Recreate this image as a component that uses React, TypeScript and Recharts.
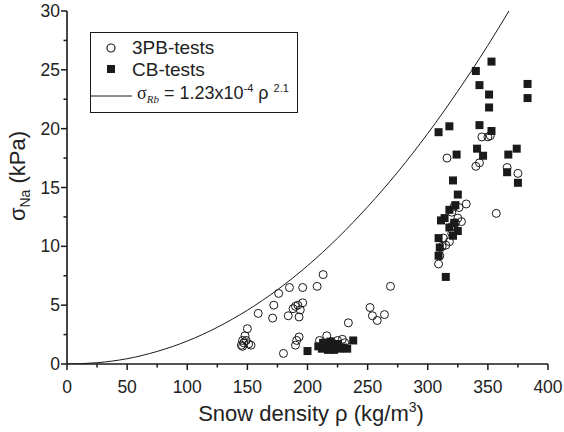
import {
  ComposedChart,
  Scatter,
  Line,
  XAxis,
  YAxis,
  Legend,
} from "recharts";

// 3PB-tests (open circles)
const pbRho = [
  145, 146, 147, 148, 150, 151, 153, 146, 149, 159, 172, 171, 176, 180, 185,
  184, 188, 190, 192, 194, 196, 193, 191, 193, 190, 196, 208, 213, 210, 216,
  212, 218, 220, 222, 225, 227, 229, 231, 234, 252, 254, 258, 264, 269, 309,
  310, 312, 313, 315, 318, 320, 316, 320, 320, 322, 326, 325, 328, 332, 323,
  340, 343, 345, 350, 352, 357, 366, 375,
];
const pbSigma = [
  1.6, 2.0, 1.8, 2.4, 3.0, 1.7, 1.6, 1.5, 2.0, 4.3, 5.0, 3.9, 6.0, 0.9, 6.5,
  4.1, 4.7, 4.9, 5.0, 4.6, 5.2, 4.0, 2.0, 2.3, 1.6, 6.5, 6.6, 7.6, 2.0, 2.4,
  1.5, 1.6, 1.9, 1.3, 2.0, 1.5, 2.1, 1.8, 3.5, 4.8, 4.1, 3.7, 4.2, 6.6, 8.5,
  9.2, 10.0, 10.7, 10.1, 10.4, 11.1, 17.5, 11.7, 12.9, 13.4, 13.3, 12.4, 12.1,
  13.6, 12.0, 16.8, 17.1, 19.3, 19.3, 19.4, 12.8, 16.7, 16.2,
];

// CB-tests (filled squares)
const cbRho = [
  200, 209, 212, 215, 217, 220, 222, 225, 227, 230, 233, 238, 213, 219, 309,
  318, 324, 321, 325, 323, 318, 314, 311, 322, 318, 325, 321, 309, 310, 309,
  315, 340, 353, 343, 351, 351, 343, 353, 341, 346, 367, 374, 366, 375, 383,
  383,
];
const cbSigma = [
  1.1, 1.5, 1.3, 1.6, 1.2, 1.5, 1.2, 1.7, 1.3, 1.4, 1.3, 2.0, 1.8, 1.9, 19.7,
  20.2, 17.8, 15.6, 14.4, 13.5, 13.1, 12.4, 12.2, 12.0, 11.6, 11.3, 10.9, 10.7,
  9.9, 9.2, 7.4, 24.9, 25.7, 23.7, 22.9, 21.8, 20.3, 19.8, 18.3, 17.7, 17.8,
  18.3, 16.3, 15.4, 23.8, 22.6,
];

// sigma_Rb curve
const fitRho = [0, 25, 50, 75, 100, 125, 150, 175, 200, 225, 250, 275, 300, 325, 350, 367.5];
const fitSigma = [0, 0.11, 0.45, 1.07, 1.95, 3.12, 4.57, 6.31, 8.35, 10.7, 13.36, 16.31, 19.59, 23.19, 27.08, 30];

const xTicks = [0, 25, 50, 75, 100, 125, 150, 175, 200, 225, 250, 275, 300, 325, 350, 375, 400];
const yTicks = [0, 2.5, 5, 7.5, 10, 12.5, 15, 17.5, 20, 22.5, 25, 27.5, 30];

const pbData = pbRho.map((rho, i) => ({ rho, sigma: pbSigma[i] }));
const cbData = cbRho.map((rho, i) => ({ rho, sigma: cbSigma[i] }));
const fitData = fitRho.map((rho, i) => ({ rho, sigma: fitSigma[i] }));

const FONT = "'Liberation Sans', Arial, sans-serif";
const SERIF = "'Liberation Serif', 'Times New Roman', serif";
const INK = "#1a1a1a";

const XTick = (props: any) => {
  const { x, y, payload } = props;
  const major = payload.value % 50 === 0;
  return (
    <g>
      <line x1={x} y1={y} x2={x} y2={y + (major ? 6 : 3.5)} stroke={INK} strokeWidth={1.5} />
      {major && (
        <text x={x} y={y + 29} textAnchor="middle" fontSize={17.5} fontFamily={FONT} fill="#222">
          {payload.value}
        </text>
      )}
    </g>
  );
};

const YTick = (props: any) => {
  const { x, y, payload } = props;
  const major = payload.value % 5 === 0;
  return (
    <g>
      <line x1={x} y1={y} x2={x - (major ? 6 : 3.5)} y2={y} stroke={INK} strokeWidth={1.5} />
      {major && (
        <text x={x - 7} y={y + 6} textAnchor="end" fontSize={17.5} fontFamily={FONT} fill="#222">
          {payload.value}
        </text>
      )}
    </g>
  );
};

const XTitle = () => (
  <text x={311} y={421} textAnchor="middle" fontSize={22} fontFamily={FONT} fill="#222">
    Snow density ρ (kg/m
    <tspan fontSize={14} dy={-9}>3</tspan>
    <tspan dy={9}>)</tspan>
  </text>
);

const YTitle = () => (
  <text transform="translate(25,176) rotate(-90)" textAnchor="middle" fontSize={22} fontFamily={FONT} fill="#222">
    σ
    <tspan fontSize={14} dy={5}>Na</tspan>
    <tspan dy={-5}> (kPa)</tspan>
  </text>
);

const LegendBox = () => (
  <div
    style={{
      width: 208,
      height: 81,
      border: `1.5px solid ${INK}`,
      boxSizing: "border-box",
      background: "#fff",
    }}
  >
    <svg width={205} height={78} style={{ display: "block", overflow: "visible" }}>
      <circle cx={20} cy={15} r={4} fill="none" stroke={INK} strokeWidth={1.2} />
      <text x={41} y={21} fontSize={19} fontFamily={FONT} fill="#222">3PB-tests</text>
      <rect x={16} y={32} width={8} height={8} fill={INK} />
      <text x={41} y={43} fontSize={19} fontFamily={FONT} fill="#222">CB-tests</text>
      <line x1={0} y1={63} x2={41} y2={63} stroke={INK} strokeWidth={1} />
      <text x={46} y={66} fontSize={18} fontFamily={FONT} fill="#222">
        <tspan fontFamily={SERIF}>σ</tspan>
        <tspan fontFamily={SERIF} fontStyle="italic" fontSize={11} dy={4}>Rb</tspan>
        <tspan dy={-4}> = 1.23x10</tspan>
        <tspan fontSize={11} dy={-7}>-4</tspan>
        <tspan dy={7}> ρ </tspan>
        <tspan fontSize={11} dy={-7}>2.1</tspan>
      </text>
    </svg>
  </div>
);

const Circle = (props: any) => (
  <circle cx={props.cx} cy={props.cy} r={4} fill="none" stroke={INK} strokeWidth={1} />
);

const Square = (props: any) => (
  <rect x={props.cx - 4} y={props.cy - 4} width={8} height={8} fill={INK} />
);

export default function App() {
  return (
    <div style={{ position: "absolute", left: 0, top: 0, background: "#fff" }}>
      <ComposedChart width={564} height={432} margin={{ top: 11, right: 16, left: 8, bottom: 0 }}>
        <XAxis
          dataKey="rho"
          type="number"
          domain={[0, 400]}
          ticks={xTicks}
          interval={0}
          tickSize={0}
          tickMargin={0}
          tick={<XTick />}
          height={68}
          stroke={INK}
          strokeWidth={1.6}
          allowDataOverflow
          label={<XTitle />}
        />
        <XAxis
          xAxisId="top"
          orientation="top"
          dataKey="rho"
          type="number"
          domain={[0, 400]}
          tick={false}
          tickLine={false}
          height={0}
          stroke={INK}
          strokeWidth={1.6}
          allowDataOverflow
        />
        <YAxis
          dataKey="sigma"
          type="number"
          domain={[0, 30]}
          ticks={yTicks}
          interval={0}
          tickSize={0}
          tickMargin={0}
          tick={<YTick />}
          width={59}
          stroke={INK}
          strokeWidth={1.6}
          allowDataOverflow
          label={<YTitle />}
        />
        <YAxis
          yAxisId="right"
          orientation="right"
          dataKey="sigma"
          type="number"
          domain={[0, 30]}
          tick={false}
          tickLine={false}
          width={0}
          stroke={INK}
          strokeWidth={1.6}
          allowDataOverflow
        />
        <Line
          data={fitData}
          dataKey="sigma"
          type="monotone"
          stroke={INK}
          strokeWidth={1}
          dot={false}
          isAnimationActive={false}
          legendType="line"
        />
        <Scatter data={pbData} dataKey="sigma" shape={<Circle />} isAnimationActive={false} />
        <Scatter data={cbData} dataKey="sigma" shape={<Square />} isAnimationActive={false} />
        <Legend
          layout="horizontal"
          verticalAlign="middle"
          align="center"
          content={() => <LegendBox />}
          wrapperStyle={{ left: 90, top: 32, width: 208, height: 81 }}
        />
      </ComposedChart>
    </div>
  );
}
